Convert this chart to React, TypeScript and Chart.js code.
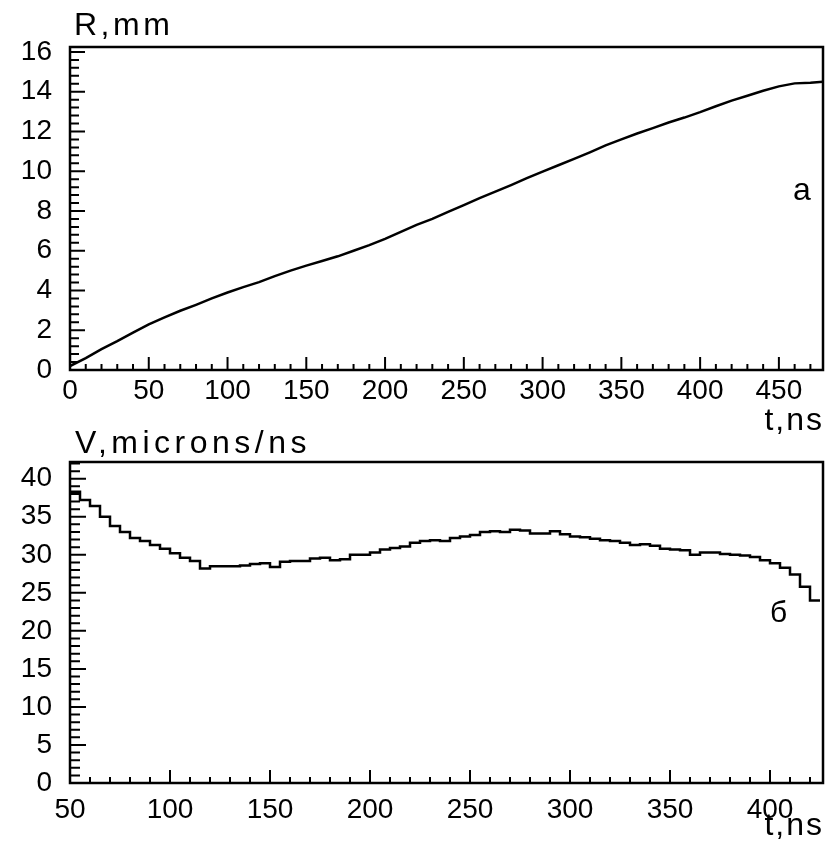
import { useEffect, useRef } from "react";
import { Chart, registerables } from "chart.js";
Chart.register(...registerables);

// ---- Panel a: radius vs time ----
const rTimes = [0, 10, 20, 30, 40, 50, 60, 70, 80, 90, 100, 110, 120, 130, 140, 150, 160, 170, 180, 190, 200, 210, 220, 230, 240, 250, 260, 270, 280, 290, 300, 310, 320, 330, 340, 350, 360, 370, 380, 390, 400, 410, 420, 430, 440, 450, 460, 470, 478];
const rValues = [0.2, 0.6, 1.05, 1.45, 1.88, 2.3, 2.65, 2.98, 3.28, 3.6, 3.9, 4.17, 4.42, 4.72, 5.0, 5.25, 5.48, 5.72, 6.0, 6.28, 6.6, 6.95, 7.3, 7.6, 7.95, 8.3, 8.65, 8.97, 9.3, 9.65, 9.98, 10.3, 10.62, 10.95, 11.3, 11.6, 11.9, 12.17, 12.45, 12.7, 12.97, 13.27, 13.55, 13.8, 14.05, 14.27, 14.42, 14.45, 14.5];
const topXTicks = [0, 50, 100, 150, 200, 250, 300, 350, 400, 450];
const topYTicks = [0, 2, 4, 6, 8, 10, 12, 14, 16];

// ---- Panel б: velocity vs time (bin starts, last entry closes final bin) ----
const vTimes = [50, 55, 60, 65, 70, 75, 80, 85, 90, 95, 100, 105, 110, 115, 120, 125, 130, 135, 140, 145, 150, 155, 160, 165, 170, 175, 180, 185, 190, 195, 200, 205, 210, 215, 220, 225, 230, 235, 240, 245, 250, 255, 260, 265, 270, 275, 280, 285, 290, 295, 300, 305, 310, 315, 320, 325, 330, 335, 340, 345, 350, 355, 360, 365, 370, 375, 380, 385, 390, 395, 400, 405, 410, 415, 420, 425];
const vValues = [38.3, 37.2, 36.4, 35.0, 33.8, 33.0, 32.2, 31.8, 31.3, 30.8, 30.2, 29.6, 29.2, 28.2, 28.5, 28.5, 28.5, 28.6, 28.8, 28.9, 28.4, 29.1, 29.2, 29.2, 29.5, 29.6, 29.3, 29.4, 30.0, 30.0, 30.3, 30.7, 30.9, 31.1, 31.6, 31.8, 31.9, 31.8, 32.2, 32.4, 32.6, 33.0, 33.1, 33.0, 33.3, 33.2, 32.8, 32.8, 33.1, 32.7, 32.4, 32.3, 32.1, 31.9, 31.8, 31.6, 31.3, 31.4, 31.2, 30.8, 30.7, 30.6, 30.0, 30.3, 30.3, 30.1, 30.0, 29.9, 29.7, 29.3, 28.9, 28.3, 27.4, 25.8, 24.0, 24.0];
const botXTicks = [50, 100, 150, 200, 250, 300, 350, 400];
const botYTicks = [0, 5, 10, 15, 20, 25, 30, 35, 40];

const FONT = "'Liberation Sans', Arial, sans-serif";

const framePlugin = {
  id: "frame",
  afterDraw(chart: any, _args: any, opts: any) {
    const { ctx, chartArea: a, scales } = chart;
    const xs = scales.x;
    const ys = scales.y;
    ctx.save();
    ctx.strokeStyle = "#000";
    ctx.lineWidth = 2.5;
    ctx.strokeRect(a.left, a.top, a.right - a.left, a.bottom - a.top);
    ctx.lineWidth = 2;
    ctx.beginPath();
    const isMajor = (list: number[], v: number) => list.some((m) => Math.abs(m - v) < 1e-6);
    for (let i = 0; ; i++) {
      const v = xs.min + i * opts.xMinor;
      if (v > xs.max + 1e-9) break;
      const px = xs.getPixelForValue(v);
      const len = isMajor(opts.xMajor, v) ? opts.xMajorLen : opts.xMinorLen;
      ctx.moveTo(px, a.bottom);
      ctx.lineTo(px, a.bottom - len);
    }
    for (let i = 0; ; i++) {
      const v = ys.min + i * opts.yMinor;
      if (v > ys.max + 1e-9) break;
      const py = ys.getPixelForValue(v);
      const len = isMajor(opts.yMajor, v) ? opts.yMajorLen : opts.yMinorLen;
      ctx.moveTo(a.left, py);
      ctx.lineTo(a.left + len, py);
    }
    ctx.stroke();
    ctx.fillStyle = "#000";
    ctx.textBaseline = "alphabetic";
    for (const t of opts.texts) {
      ctx.font = `${t.size}px ${FONT}`;
      ctx.letterSpacing = `${t.spacing}px`;
      ctx.textAlign = t.align;
      ctx.fillText(t.text, t.x, t.y);
    }
    ctx.restore();
  },
};

function makeConfig(p: any) {
  return {
    type: "line",
    data: {
      datasets: [
        {
          data: p.xs.map((x: number, i: number) => ({ x, y: p.ys[i] })),
          borderColor: "#000",
          borderWidth: 2.5,
          pointRadius: 0,
          fill: false,
          stepped: p.stepped,
          tension: 0,
        },
      ],
    },
    options: {
      animation: false,
      responsive: false,
      maintainAspectRatio: false,
      layout: { padding: { top: p.padTop, right: 4, left: 0, bottom: 0 } },
      plugins: {
        legend: { display: false },
        tooltip: { enabled: false },
        frame: p.frame,
      },
      scales: {
        x: {
          type: "linear",
          min: p.xMin,
          max: p.xMax,
          grid: { display: false, drawTicks: false },
          border: { display: false },
          afterBuildTicks: (s: any) => {
            s.ticks = p.xTicks.map((v: number) => ({ value: v }));
          },
          afterFit: (s: any) => {
            s.height = p.xAxisH;
          },
          ticks: { autoSkip: false, maxRotation: 0, padding: p.xPad, color: "#000", font: { family: FONT, size: 28 } },
        },
        y: {
          type: "linear",
          min: 0,
          max: p.yMax,
          grid: { display: false, drawTicks: false },
          border: { display: false },
          afterBuildTicks: (s: any) => {
            s.ticks = p.yTicks.map((v: number) => ({ value: v }));
          },
          afterFit: (s: any) => {
            s.width = 70;
          },
          ticks: { autoSkip: false, padding: 18, color: "#000", font: { family: FONT, size: 28 } },
        },
      },
    },
    plugins: [framePlugin],
  };
}

export default function App() {
  const topRef = useRef<HTMLCanvasElement>(null);
  const botRef = useRef<HTMLCanvasElement>(null);

  useEffect(() => {
    const top = new Chart(
      topRef.current as HTMLCanvasElement,
      makeConfig({
        xs: rTimes,
        ys: rValues,
        stepped: false,
        padTop: 47,
        xMin: 0,
        xMax: 478,
        yMax: 16.25,
        xTicks: topXTicks,
        yTicks: topYTicks,
        xAxisH: 70,
        xPad: 4,
        frame: {
          xMinor: 10,
          xMajor: topXTicks,
          xMajorLen: 13,
          xMinorLen: 6,
          yMinor: 0.4,
          yMajor: topYTicks,
          yMajorLen: 15,
          yMinorLen: 9,
          texts: [
            { text: "R,mm", x: 74, y: 35, size: 32, spacing: 3.5, align: "left" },
            { text: "t,ns", x: 824, y: 430, size: 32, spacing: 2, align: "right" },
            { text: "a", x: 793, y: 200, size: 32, spacing: 0, align: "left" },
          ],
        },
      }) as any
    );
    const bot = new Chart(
      botRef.current as HTMLCanvasElement,
      makeConfig({
        xs: vTimes,
        ys: vValues,
        stepped: "before",
        padTop: 42,
        xMin: 50,
        xMax: 426.5,
        yMax: 42.2,
        xTicks: botXTicks,
        yTicks: botYTicks,
        xAxisH: 64,
        xPad: 10,
        frame: {
          xMinor: 10,
          xMajor: botXTicks,
          xMajorLen: 13,
          xMinorLen: 6,
          yMinor: 1,
          yMajor: botYTicks,
          yMajorLen: 16,
          yMinorLen: 10,
          texts: [
            { text: "V,microns/ns", x: 75, y: 33, size: 32, spacing: 4.5, align: "left" },
            { text: "t,ns", x: 824, y: 415, size: 32, spacing: 2, align: "right" },
            { text: "б", x: 770, y: 202, size: 30, spacing: 0, align: "left" },
          ],
        },
      }) as any
    );
    return () => {
      top.destroy();
      bot.destroy();
    };
  }, []);

  return (
    <div style={{ position: "fixed", left: 0, top: 0, width: 827, height: 847, background: "#fff" }}>
      <canvas ref={topRef} width={827} height={440} style={{ position: "absolute", left: 0, top: 0, width: 827, height: 440 }} />
      <canvas ref={botRef} width={827} height={427} style={{ position: "absolute", left: 0, top: 420, width: 827, height: 427 }} />
    </div>
  );
}
